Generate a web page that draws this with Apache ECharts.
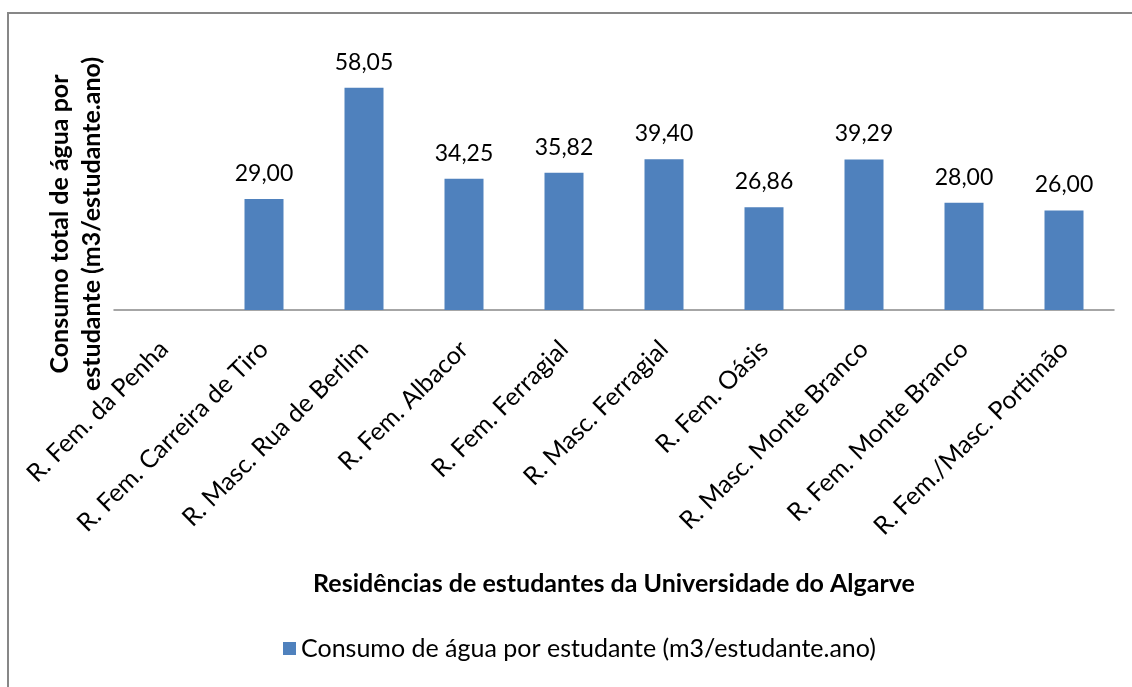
<!DOCTYPE html>
<html>
<head>
<meta charset="utf-8">
<script src="https://cdn.jsdelivr.net/npm/echarts@6/dist/echarts.min.js"></script>
<style>html,body{margin:0;padding:0;background:#fff}#c{width:1132px;height:687px}</style>
</head>
<body>
<div id="c"></div>
<script>
const categories = [
  'R. Fem. da Penha',
  'R. Fem. Carreira de Tiro',
  'R. Masc. Rua de Berlim',
  'R. Fem. Albacor',
  'R. Fem. Ferragial',
  'R. Masc. Ferragial',
  'R. Fem. Oásis',
  'R. Masc. Monte Branco',
  'R. Fem. Monte Branco',
  'R. Fem./Masc. Portimão'
];
const consumo = [null, 29.00, 58.05, 34.25, 35.82, 39.40, 26.86, 39.29, 28.00, 26.00];
const seriesName = 'Consumo de água por estudante (m3/estudante.ano)';
const xTitle = 'Residências de estudantes da Universidade do Algarve';
const yTitle = 'Consumo total de água por\nestudante (m3/estudante.ano)';

const FONT = 'Lato, Carlito, Calibri, sans-serif';
const chart = echarts.init(document.getElementById('c'), null, {renderer: 'canvas'});
chart.setOption({
  animation: false,
  backgroundColor: '#fff',
  textStyle: {fontFamily: FONT, color: '#000'},
  grid: {left: 114, right: 18, top: 42, bottom: 377, containLabel: false},
  legend: {
    data: [seriesName],
    bottom: 21,
    left: 278,
    itemWidth: 13,
    itemHeight: 13,
    itemGap: 5,
    icon: 'rect',
    textStyle: {fontFamily: FONT, fontSize: 25, color: '#000'}
  },
  xAxis: {
    type: 'category',
    data: categories,
    axisLine: {show: true, lineStyle: {color: '#898989', width: 1.5}},
    axisTick: {show: false},
    axisLabel: {rotate: 45, margin: 35, interval: 0, fontFamily: FONT, fontSize: 25, color: '#000'},
    name: xTitle,
    nameLocation: 'middle',
    nameGap: 261,
    nameTextStyle: {fontFamily: FONT, fontSize: 25, fontWeight: 'bold', color: '#000'}
  },
  yAxis: {
    type: 'value',
    min: 0,
    max: 70,
    show: false,
    splitLine: {show: false}
  },
  series: [{
    name: seriesName,
    type: 'bar',
    data: consumo.map(v => v === null ? '-' : v),
    barWidth: 39,
    itemStyle: {color: '#4F81BD'},
    label: {
      show: true,
      position: 'top',
      distance: 14,
      fontFamily: FONT,
      fontSize: 23,
      color: '#000',
      formatter: p => Number(p.value).toFixed(2).replace('.', ',')
    }
  }],
  graphic: [
    {
      type: 'rect',
      silent: true,
      shape: {x: 8, y: 13, width: 1140, height: 700},
      style: {fill: null, stroke: '#878787', lineWidth: 2}
    },
    {
      type: 'text',
      x: 76,
      y: 224,
      rotation: Math.PI / 2,
      style: {
        text: yTitle,
        font: 'bold 25px ' + FONT,
        fill: '#000',
        align: 'center',
        verticalAlign: 'middle',
        lineHeight: 32
      }
    }
  ]
});
</script>
</body>
</html>
